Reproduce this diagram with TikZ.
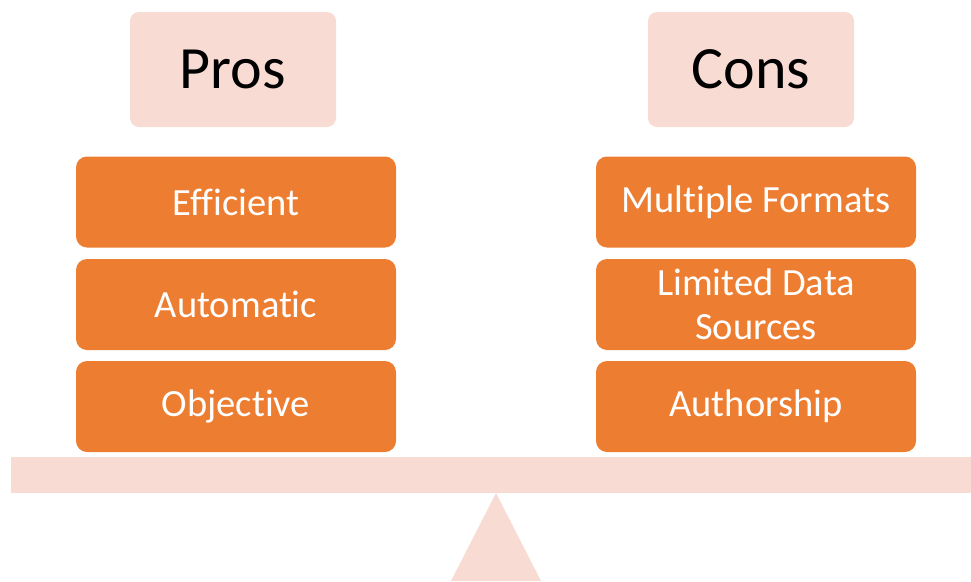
\documentclass[tikz,border=0pt]{standalone}
\usepackage{fontspec}
\setmainfont[Ligatures=NoCommon]{Carlito}
\usepackage{xcolor}
\usepackage{tikz}

\definecolor{accent}{HTML}{ED7D31}
\definecolor{blush}{HTML}{F8DBD3}

\begin{document}
\begin{tikzpicture}[
    x=1pt, y=-1pt,
    head/.style={rectangle, fill=blush, rounded corners=9pt, minimum width=206pt, minimum height=115pt, font=\fontsize{60}{72}\selectfont, text=black},
    item/.style={rectangle, fill=accent, rounded corners=11pt, minimum width=320pt, minimum height=91pt, align=center, font=\fontsize{38.5}{44}\selectfont, text=white, inner sep=0pt}
]
    \useasboundingbox (0,0) rectangle (971,581);

    \node[head] (pros) at (233,69.5) {Pros};
    \node[head] (cons) at (751,69.5) {Cons};

    \node[item] (efficient) at (236,202) {Efficient};
    \node[item] (automatic) at (236,304.5) {Automatic};
    \node[item] (objective) at (236,406.5) {Objective};

    \node[item] (formats) at (756,202) {Multiple Formats};
    \node[item] (sources) at (756,304.5) {Limited Data\\Sources};
    \node[item] (authorship) at (756,406.5) {Authorship};

    % seesaw
    \node[rectangle, fill=blush, minimum width=960pt, minimum height=36pt, inner sep=0pt] (beam) at (491,475) {};
    \coordinate (apex) at (496,493);
    \fill[blush] (apex) -- (451,581) -- (541,581) -- cycle;
\end{tikzpicture}
\end{document}
